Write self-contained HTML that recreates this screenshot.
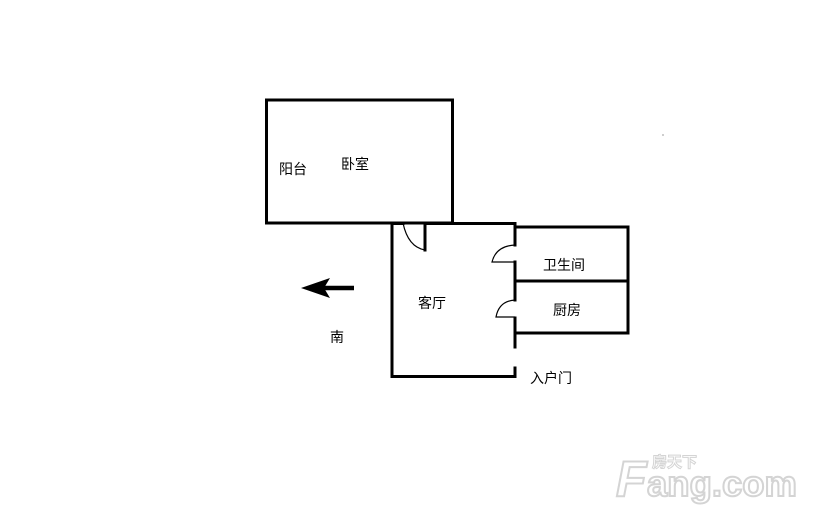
<!DOCTYPE html>
<html><head><meta charset="utf-8"><style>
html,body{margin:0;padding:0;background:#fff;}
body{width:814px;height:519px;position:relative;overflow:hidden;font-family:"Liberation Sans","Noto Sans CJK SC",sans-serif;}
.t{position:absolute;font-size:14px;color:#000;line-height:1;}
</style></head><body>
<svg width="814" height="519" style="position:absolute;left:0;top:0">
<g stroke="#000" stroke-width="3" fill="none" stroke-linecap="square">
<rect x="266.5" y="100" width="186" height="123"/>
<polyline points="403,223.5 392,223.5 392,376.5 515,376.5 515,368"/>
<line x1="425" y1="223.5" x2="515" y2="223.5"/>
<line x1="425" y1="223.5" x2="425" y2="250"/>
<line x1="515" y1="223.5" x2="515" y2="245"/>
<line x1="515" y1="262" x2="515" y2="300"/>
<line x1="515" y1="318" x2="515" y2="347"/>
<polyline points="515,227 628,227 628,333 515,333"/>
<line x1="515" y1="281" x2="628" y2="281"/>
</g>
<g stroke="#000" stroke-width="1.2" fill="none">
<path d="M403,223 Q408,247 425,250"/>
<path d="M515,245 Q496,246 492,262 L515,262"/>
<path d="M515,300 Q499,301 496,317 L515,317"/>
</g>
<line x1="322" y1="288" x2="354" y2="288" stroke="#000" stroke-width="4.5"/>
<polygon points="301,288 330,278 324,288 330,298" fill="#000"/>
<circle cx="663" cy="135" r="0.6" fill="#555"/>
<g font-family="Liberation Sans, sans-serif" font-weight="bold" fill="#fff" stroke="#d4d4d4" stroke-width="2">
<text x="616" y="496" font-size="50" font-style="italic">F</text>
<text x="647" y="496" font-size="36" textLength="150" lengthAdjust="spacingAndGlyphs">ang.com</text>
<text x="652" y="467" font-size="15" font-family="Noto Sans CJK SC, sans-serif" stroke-width="1">房天下</text>
</g>
</svg>
<div class="t" style="left:279px;top:162px">阳台</div>
<div class="t" style="left:341px;top:157px">卧室</div>
<div class="t" style="left:418px;top:296px">客厅</div>
<div class="t" style="left:543px;top:258px">卫生间</div>
<div class="t" style="left:553px;top:303px">厨房</div>
<div class="t" style="left:330px;top:330px">南</div>
<div class="t" style="left:530px;top:371px">入户门</div>
</body></html>
